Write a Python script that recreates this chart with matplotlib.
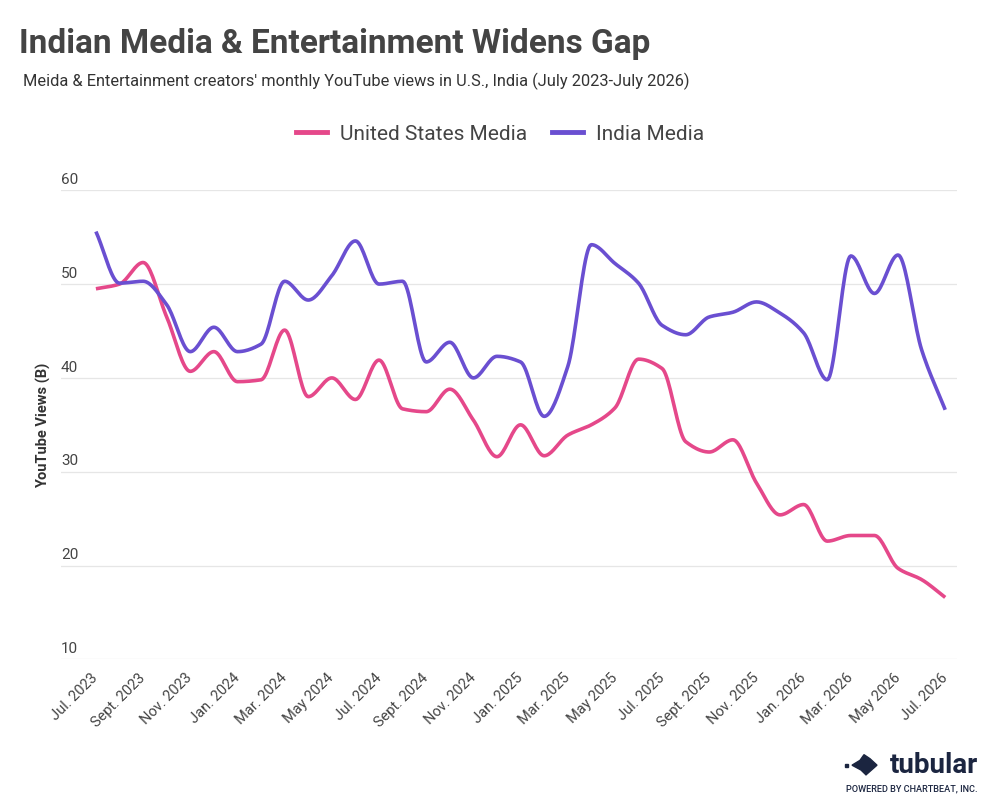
import numpy as np
import matplotlib
matplotlib.use("Agg")
import matplotlib.pyplot as plt
from matplotlib.patches import Polygon

plt.rcParams["font.family"] = ["Roboto", "DejaVu Sans"]

# monthly values, Jul 2023 .. Jul 2026 (billions of views)
months = ["Jul. 2023", "Aug. 2023", "Sept. 2023", "Oct. 2023", "Nov. 2023", "Dec. 2023",
          "Jan. 2024", "Feb. 2024", "Mar. 2024", "Apr. 2024", "May 2024", "Jun. 2024",
          "Jul. 2024", "Aug. 2024", "Sept. 2024", "Oct. 2024", "Nov. 2024", "Dec. 2024",
          "Jan. 2025", "Feb. 2025", "Mar. 2025", "Apr. 2025", "May 2025", "Jun. 2025",
          "Jul. 2025", "Aug. 2025", "Sept. 2025", "Oct. 2025", "Nov. 2025", "Dec. 2025",
          "Jan. 2026", "Feb. 2026", "Mar. 2026", "Apr. 2026", "May 2026", "Jun. 2026",
          "Jul. 2026"]
us_media = [49.5, 50.0, 52.3, 46.5, 40.7, 42.8, 39.6, 39.8, 45.1, 38.0, 40.0, 37.7,
            41.9, 36.7, 36.4, 38.8, 35.5, 31.6, 35.0, 31.7, 33.9, 35.0, 36.8, 42.0,
            41.0, 33.2, 32.1, 33.4, 28.8, 25.4, 26.5, 22.6, 23.2, 23.2, 19.7, 18.5,
            16.6]
india_media = [55.6, 50.1, 50.3, 47.8, 42.8, 45.4, 42.8, 43.6, 50.3, 48.3, 50.9, 54.6,
               50.0, 50.3, 41.7, 43.8, 40.0, 42.3, 41.7, 35.9, 41.2, 54.2, 52.2, 50.1,
               45.6, 44.6, 46.5, 47.0, 48.1, 46.9, 44.8, 39.8, 53.0, 49.0, 53.1, 43.0,
               36.6]
y_ticks = [10, 20, 30, 40, 50, 60]

US_COLOR = "#e5488a"
INDIA_COLOR = "#6a4fd1"
TEXT = "#444444"


def monotone(x, y, n=20):
    """Fritsch-Carlson monotone cubic, like d3.curveMonotoneX."""
    x = np.asarray(x, float)
    y = np.asarray(y, float)
    h = np.diff(x)
    d = np.diff(y) / h
    m = np.zeros_like(y)
    m[0], m[-1] = d[0], d[-1]
    for i in range(1, len(y) - 1):
        if d[i - 1] * d[i] <= 0:
            m[i] = 0.0
        else:
            w1 = 2 * h[i] + h[i - 1]
            w2 = h[i] + 2 * h[i - 1]
            m[i] = (w1 + w2) / (w1 / d[i - 1] + w2 / d[i])
    xs, ys = [], []
    for i in range(len(x) - 1):
        t = np.linspace(0, 1, n, endpoint=False)
        h00 = 2 * t**3 - 3 * t**2 + 1
        h10 = t**3 - 2 * t**2 + t
        h01 = -2 * t**3 + 3 * t**2
        h11 = t**3 - t**2
        xs.append(x[i] + t * h[i])
        ys.append(h00 * y[i] + h10 * h[i] * m[i] + h01 * y[i + 1] + h11 * h[i] * m[i + 1])
    xs.append([x[-1]])
    ys.append([y[-1]])
    return np.concatenate(xs), np.concatenate(ys)


fig = plt.figure(figsize=(10, 8.08), dpi=100)
ax = fig.add_axes([0.061, 0.184, 0.896, 0.5805])

x = np.arange(len(months))
for vals, col in ((us_media, US_COLOR), (india_media, INDIA_COLOR)):
    sx, sy = monotone(x, vals)
    ax.plot(sx, sy, color=col, lw=2.6, solid_capstyle="butt", clip_on=False, zorder=3)

x_left = -1.48
ax.set_xlim(x_left, 36.5)
ax.set_ylim(10, 60)
for v in y_ticks:
    ax.axhline(v, color="#e6e6e6", lw=0.9, zorder=1)
    ax.text(x_left, v + 0.35, str(v), ha="left", va="bottom", fontsize=11, color=TEXT)
for s in ax.spines.values():
    s.set_visible(False)
ax.set_yticks([])
ax.set_xticks(x[::2])
ax.set_xticklabels(months[::2], rotation=45, ha="right", va="center",
                   rotation_mode="anchor", fontsize=10.5, color=TEXT)
ax.tick_params(axis="x", length=0, pad=12)

fig.text(0.044, 0.474, "YouTube Views (B)", rotation=90, ha="center", va="center",
         fontsize=10.5, fontweight="bold", color="#333333")

# title block
fig.text(0.019, 0.945, "Indian Media & Entertainment Widens Gap", fontsize=24,
         fontweight="bold", color=TEXT, va="center")
fig.text(0.023, 0.899, "Meida & Entertainment creators' monthly YouTube views in U.S., India (July 2023-July 2026)",
         fontsize=11.8, color="#333333", va="center")

# legend
h1, = ax.plot([], [], color=US_COLOR, lw=3.5)
h2, = ax.plot([], [], color=INDIA_COLOR, lw=3.5)
fig.legend([h1, h2], ["United States Media", "India Media"], loc="center",
           bbox_to_anchor=(0.5, 0.834), ncol=2, frameon=False, fontsize=15,
           handlelength=1.5, handletextpad=0.6, columnspacing=1.2, labelcolor=TEXT)

# tubular logo
navy = "#1b2540"
fig.text(0.978, 0.052, "tubular", fontsize=20, fontweight="bold", color=navy,
         ha="right", va="center")
fig.text(0.978, 0.023, "POWERED BY CHARTBEAT, INC.", fontsize=6.6, fontweight="medium",
         color=navy, ha="right", va="center")
fig.patches.append(Polygon([[0.852, 0.053], [0.860, 0.059], [0.864, 0.066], [0.870, 0.061],
                            [0.877, 0.053], [0.866, 0.041], [0.861, 0.047]],
                           closed=True, transform=fig.transFigure, color=navy))
fig.patches.append(Polygon([[0.845, 0.051], [0.848, 0.051], [0.848, 0.055], [0.845, 0.055]],
                           closed=True, transform=fig.transFigure, color=navy))

fig.savefig("out.png", dpi=100, facecolor="white")
